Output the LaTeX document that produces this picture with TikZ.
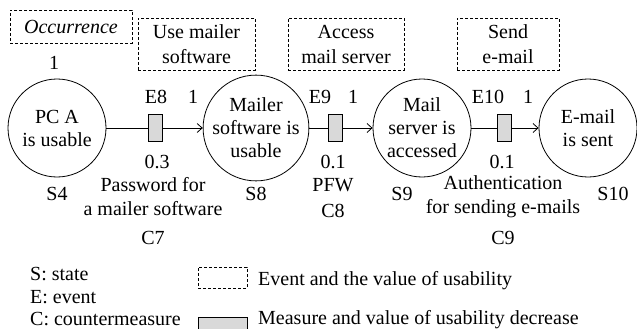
\documentclass[tikz,border=0pt]{standalone}
\usepackage{fontspec}
\setmainfont{Liberation Serif}
\usetikzlibrary{arrows.meta}
\begin{document}
\begin{tikzpicture}[x=1pt,y=-1pt,
  every node/.style={font=\fontsize{20}{23}\selectfont, inner sep=0pt},
  state/.style={circle, draw, line width=0.8pt, minimum size=98pt, align=center},
  evbox/.style={draw, dash pattern=on 3pt off 2pt, line width=0.7pt, align=center,
                font=\fontsize{20}{25}\selectfont},
  measure/.style={draw, fill=gray!30, line width=0.8pt, minimum width=14pt, minimum height=27pt},
  lbl/.style={align=center},
  flow/.style={line width=0.8pt},
  tip/.style={flow, -{Straight Barb[length=5pt,width=9pt]}}
]
\useasboundingbox (0,0) rectangle (637,329);

% events with their usability values
\node[evbox, minimum width=122pt, minimum height=33pt] (occ) at (71,26.5) {\textit{Occurrence}};
\node[evbox, minimum width=117pt, minimum height=52pt] (ev8) at (196.5,44) {Use mailer\\software};
\node[evbox, minimum width=116pt, minimum height=52pt] (ev9) at (346,44) {Access\\mail server};
\node[evbox, minimum width=102pt, minimum height=52pt] (ev10) at (508,44) {Send\\e-mail};
\node (v0) at (54,63) {1};

% states
\node[state] (s4) at (57,128) {PC A\\is usable};
\node[state] (s8) at (256,128) {Mailer\\software is\\usable};
\node[state] (s9) at (422,128) {Mail\\server is\\accessed};
\node[state] (s10) at (588,128) {E-mail\\is sent};

% measures between states
\node[measure] (m7) at (155,128) {};
\node[measure] (m8) at (335,128) {};
\node[measure] (m9) at (504,128) {};

\draw[flow] (s4) -- (m7);
\draw[tip] (m7) -- (s8);
\draw[flow] (s8) -- (m8);
\draw[tip] (m8) -- (s9);
\draw[flow] (s9) -- (m9);
\draw[tip] (m9) -- (s10);

% event labels and values
\node (e8) at (156,97) {E8};
\node (v8) at (193,97) {1};
\node (e9) at (320,97) {E9};
\node (v9) at (353,97) {1};
\node (e10) at (488,97) {E10};
\node (v10) at (528,97) {1};

% decrease values
\node (d7) at (157,162) {0.3};
\node (d8) at (333,162) {0.1};
\node (d9) at (502,162) {0.1};

% state labels
\node (l4) at (57,194) {S4};
\node (l8) at (256,194) {S8};
\node (l9) at (402,194) {S9};
\node (l10) at (613,194) {S10};

% countermeasures
\node[lbl, font=\fontsize{20}{24}\selectfont] (c7t) at (153,197) {Password for\\a mailer software};
\node (c7) at (153,238) {C7};
\node (c8t) at (333,185) {PFW};
\node (c8) at (333,211) {C8};
\node[lbl, font=\fontsize{20}{24}\selectfont] (c9t) at (503,197) {Authentication\\for sending e-mails};
\node (c9) at (503,238) {C9};

% legend
\node[anchor=west] (ks) at (30,274) {S: state};
\node[anchor=west] (ke) at (30,297) {E: event};
\node[anchor=west] (kc) at (30,319.5) {C: countermeasure};
\node[evbox, minimum width=49pt, minimum height=21pt] (kev) at (222.5,277.5) {};
\begin{scope}
  \clip (0,0) rectangle (637,329);
  \node[measure, minimum width=49pt, minimum height=22pt] (kms) at (222.5,328) {};
\end{scope}
\node[anchor=west] (kevt) at (258,281) {Event and the value of usability};
\node[anchor=west] (kmst) at (258,319.5) {Measure and value of usability decrease};
\end{tikzpicture}
\end{document}
